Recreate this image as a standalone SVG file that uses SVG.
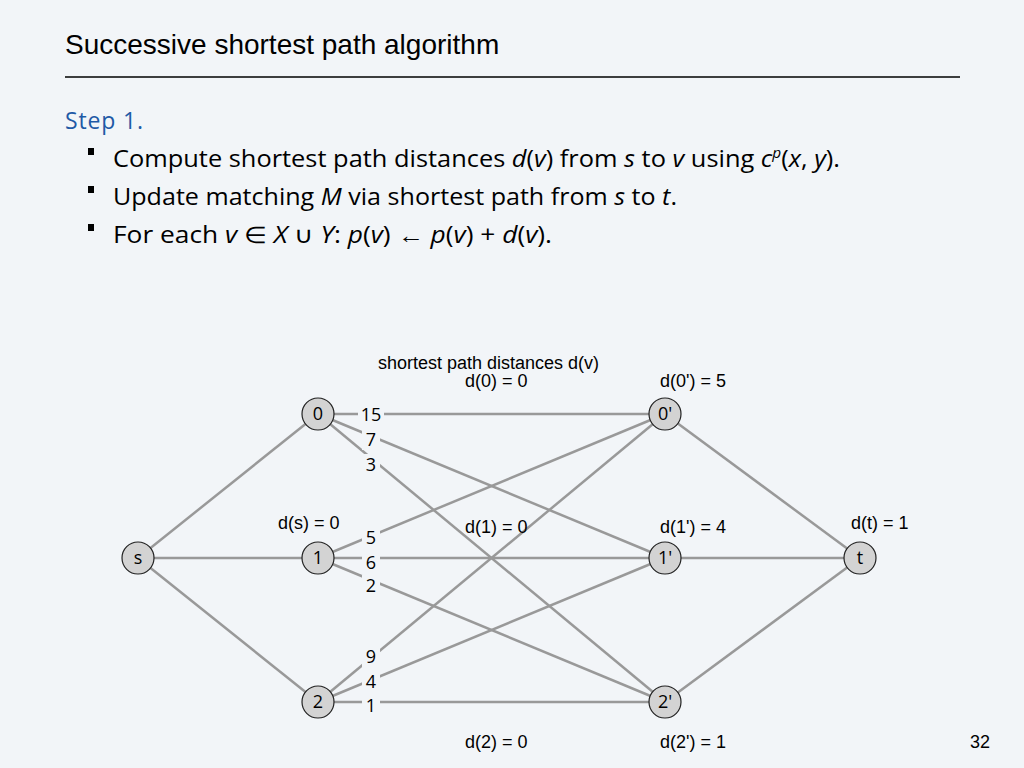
<svg xmlns="http://www.w3.org/2000/svg" width="1024" height="768" viewBox="0 0 1024 768">
<style>
.title{font-family:"Liberation Sans",Arial,sans-serif;font-size:28px;fill:#000}
.body{font-family:"Open Sans","Noto Sans",sans-serif;font-size:23px;fill:#000}
.it{font-style:italic}
.step{font-family:"Open Sans","Noto Sans",sans-serif;font-size:23px;fill:#1f5aa6}
.lbl{font-family:"Liberation Sans",Arial,sans-serif;font-size:18px;fill:#000}
.num{font-family:"Open Sans","Noto Sans",sans-serif;font-size:18px;fill:#000;text-anchor:middle}
.edge{stroke:#999;stroke-width:2.5;fill:none}
.node circle{fill:#d3d3d3;stroke:#222;stroke-width:1.2}
.node text{font-family:"Open Sans","Noto Sans",sans-serif;font-size:18px;text-anchor:middle;fill:#000}
.bg{fill:#f2f5f8}
</style>
<rect x="0" y="0" width="1024" height="768" fill="#f2f5f8"/>
<text class="title" x="65" y="54">Successive shortest path algorithm</text>
<line x1="65" y1="77" x2="960" y2="77" stroke="#000" stroke-width="1.5"/>
<text class="step" x="65" y="129" textLength="78">Step 1.</text>
<g id="bullets">
<rect x="88" y="148" width="6" height="7" fill="#000"/>
<rect x="88" y="186" width="6" height="7" fill="#000"/>
<rect x="88" y="224" width="6" height="7" fill="#000"/>
<text class="body" x="113" y="167" textLength="727" lengthAdjust="spacingAndGlyphs">Compute shortest path distances <tspan class="it">d</tspan>(<tspan class="it">v</tspan>) from <tspan class="it">s</tspan> to <tspan class="it">v</tspan> using <tspan class="it">c</tspan><tspan class="it" font-size="14" dy="-9">p</tspan><tspan dy="9">(</tspan><tspan class="it">x</tspan>, <tspan class="it">y</tspan>).</text>
<text class="body" x="113" y="205" textLength="564" lengthAdjust="spacingAndGlyphs">Update matching <tspan class="it">M</tspan> via shortest path from <tspan class="it">s</tspan> to <tspan class="it">t</tspan>.</text>
<text class="body" x="113" y="243" textLength="439" lengthAdjust="spacingAndGlyphs">For each <tspan class="it">v</tspan> ∈ <tspan class="it">X</tspan> ∪ <tspan class="it">Y</tspan>:  <tspan class="it">p</tspan>(<tspan class="it">v</tspan>)  ← <tspan class="it">p</tspan>(<tspan class="it">v</tspan>) + <tspan class="it">d</tspan>(<tspan class="it">v</tspan>).</text>
</g>
<g id="connectors">
<line class="edge" x1="138" y1="558" x2="318" y2="414"/>
<line class="edge" x1="138" y1="558" x2="318" y2="558"/>
<line class="edge" x1="138" y1="558" x2="318" y2="702"/>
<line class="edge" x1="318" y1="414" x2="665" y2="414"/>
<line class="edge" x1="318" y1="414" x2="665" y2="558"/>
<line class="edge" x1="318" y1="414" x2="665" y2="702"/>
<line class="edge" x1="318" y1="558" x2="665" y2="414"/>
<line class="edge" x1="318" y1="558" x2="665" y2="558"/>
<line class="edge" x1="318" y1="558" x2="665" y2="702"/>
<line class="edge" x1="318" y1="702" x2="665" y2="414"/>
<line class="edge" x1="318" y1="702" x2="665" y2="558"/>
<line class="edge" x1="318" y1="702" x2="665" y2="702"/>
<line class="edge" x1="665" y1="414" x2="860" y2="558"/>
<line class="edge" x1="665" y1="558" x2="860" y2="558"/>
<line class="edge" x1="665" y1="702" x2="860" y2="558"/>
</g>
<g id="edge-labels">
<rect class="bg" x="358" y="404" width="26" height="21"/><text class="num" x="371" y="421">15</text>
<rect class="bg" x="362" y="429" width="18" height="21"/><text class="num" x="371" y="446">7</text>
<rect class="bg" x="362" y="454" width="18" height="21"/><text class="num" x="371" y="471">3</text>
<rect class="bg" x="362" y="527" width="18" height="21"/><text class="num" x="371" y="544">5</text>
<rect class="bg" x="362" y="552" width="18" height="21"/><text class="num" x="371" y="569">6</text>
<rect class="bg" x="362" y="575" width="18" height="21"/><text class="num" x="371" y="592">2</text>
<rect class="bg" x="362" y="646" width="18" height="21"/><text class="num" x="371" y="663">9</text>
<rect class="bg" x="362" y="671" width="18" height="21"/><text class="num" x="371" y="688">4</text>
<rect class="bg" x="362" y="695" width="18" height="21"/><text class="num" x="371" y="712">1</text>
</g>
<g id="node-s" class="node"><circle cx="138" cy="558" r="16"/><text x="138" y="564">s</text></g>
<g id="node-0" class="node"><circle cx="318" cy="414" r="16"/><text x="318" y="420">0</text></g>
<g id="node-1" class="node"><circle cx="318" cy="558" r="16"/><text x="318" y="564">1</text></g>
<g id="node-2" class="node"><circle cx="318" cy="702" r="16"/><text x="318" y="708">2</text></g>
<g id="node-0p" class="node"><circle cx="665" cy="414" r="16"/><text x="665" y="420">0'</text></g>
<g id="node-1p" class="node"><circle cx="665" cy="558" r="16"/><text x="665" y="564">1'</text></g>
<g id="node-2p" class="node"><circle cx="665" cy="702" r="16"/><text x="665" y="708">2'</text></g>
<g id="node-t" class="node"><circle cx="860" cy="558" r="16"/><text x="860" y="564">t</text></g>
<g id="distance-labels">
<text class="lbl" x="378" y="369">shortest path distances d(v)</text>
<text class="lbl" x="465" y="387">d(0) = 0</text>
<text class="lbl" x="660" y="387">d(0') = 5</text>
<text class="lbl" x="278" y="529">d(s) = 0</text>
<text class="lbl" x="465" y="533">d(1) = 0</text>
<text class="lbl" x="660" y="533">d(1') = 4</text>
<text class="lbl" x="851" y="529">d(t) = 1</text>
<text class="lbl" x="465" y="748">d(2) = 0</text>
<text class="lbl" x="660" y="748">d(2') = 1</text>
</g>
<text class="lbl" x="970" y="748" font-size="20">32</text>
</svg>
